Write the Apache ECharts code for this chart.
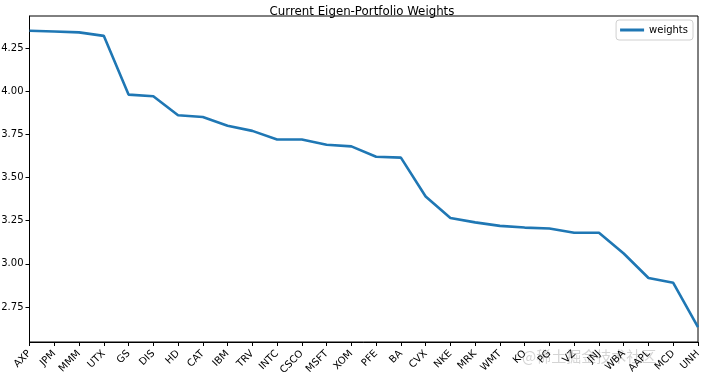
<!DOCTYPE html>
<html>
<head>
<meta charset="utf-8">
<script src="https://cdn.jsdelivr.net/npm/echarts@6/dist/echarts.min.js"></script>
<style>
html, body { margin: 0; padding: 0; background: #fff; }
#chart { width: 708px; height: 375px; }
</style>
</head>
<body>
<div id="chart"></div>
<script>
const tickers = ['AXP', 'JPM', 'MMM', 'UTX', 'GS', 'DIS', 'HD', 'CAT', 'IBM', 'TRV', 'INTC', 'CSCO', 'MSFT', 'XOM',
    'PFE', 'BA', 'CVX', 'NKE', 'MRK', 'WMT', 'KO', 'PG', 'VZ', 'JNJ', 'WBA', 'AAPL', 'MCD', 'UNH'];
const weights = [4.35, 4.345, 4.34, 4.32, 3.98, 3.97, 3.86, 3.85, 3.80, 3.77, 3.72, 3.72, 3.69, 3.68,
    3.62, 3.615, 3.39, 3.265, 3.24, 3.22, 3.21, 3.205, 3.18, 3.18, 3.06, 2.918, 2.89, 2.633];
const yTicks = [2.75, 3.00, 3.25, 3.50, 3.75, 4.00, 4.25];

const font = 'DejaVu Sans';
const chart = echarts.init(document.getElementById('chart'));
chart.setOption({
    backgroundColor: '#fff',
    animation: false,
    title: {
        text: 'Current Eigen-Portfolio Weights',
        left: 357, top: 1, textAlign: 'center',
        textStyle: { fontFamily: font, fontSize: 11.8, fontWeight: 'normal', color: '#000' }
    },
    legend: {
        right: 15, top: 20,
        orient: 'vertical',
        itemWidth: 24, itemHeight: 3, itemGap: 4,
        padding: [5, 5, 5, 4],
        borderColor: '#d0d0d0', borderWidth: 1, borderRadius: 3,
        icon: 'rect',
        textStyle: { fontFamily: font, fontSize: 10, color: '#000' },
        data: ['weights']
    },
    grid: {
        left: 29.5, right: 10, top: 16, bottom: 33,
        show: true, borderColor: '#000', borderWidth: 1,
        outerBoundsMode: 'none'
    },
    xAxis: {
        type: 'category',
        data: tickers,
        boundaryGap: false,
        axisLine: { lineStyle: { color: '#000', width: 1 } },
        axisTick: { length: 4, lineStyle: { color: '#000' }, alignWithLabel: true },
        axisLabel: { rotate: 45, interval: 0, margin: 10, fontFamily: font, fontSize: 10, color: '#000' },
        splitLine: { show: false }
    },
    yAxis: {
        type: 'value',
        min: 2.5475, max: 4.435,
        axisLine: { show: true, lineStyle: { color: '#000', width: 1 } },
        axisTick: { show: true, length: 4, lineStyle: { color: '#000' }, customValues: yTicks },
        axisLabel: {
            fontFamily: font, fontSize: 10, color: '#000', margin: 6,
            customValues: yTicks,
            formatter: v => v.toFixed(2)
        },
        splitLine: { show: false }
    },
    graphic: [{
        type: 'text', left: 522, top: 349,
        style: { text: '@稀土掘金技术社区', fontFamily: 'Noto Sans CJK SC', fontSize: 15, fill: 'rgba(160,160,160,0.45)' }
    }],
    series: [{
        name: 'weights',
        type: 'line',
        data: weights,
        symbol: 'none',
        lineStyle: { color: '#1f77b4', width: 2.6 },
        itemStyle: { color: '#1f77b4' }
    }]
});
</script>
</body>
</html>
